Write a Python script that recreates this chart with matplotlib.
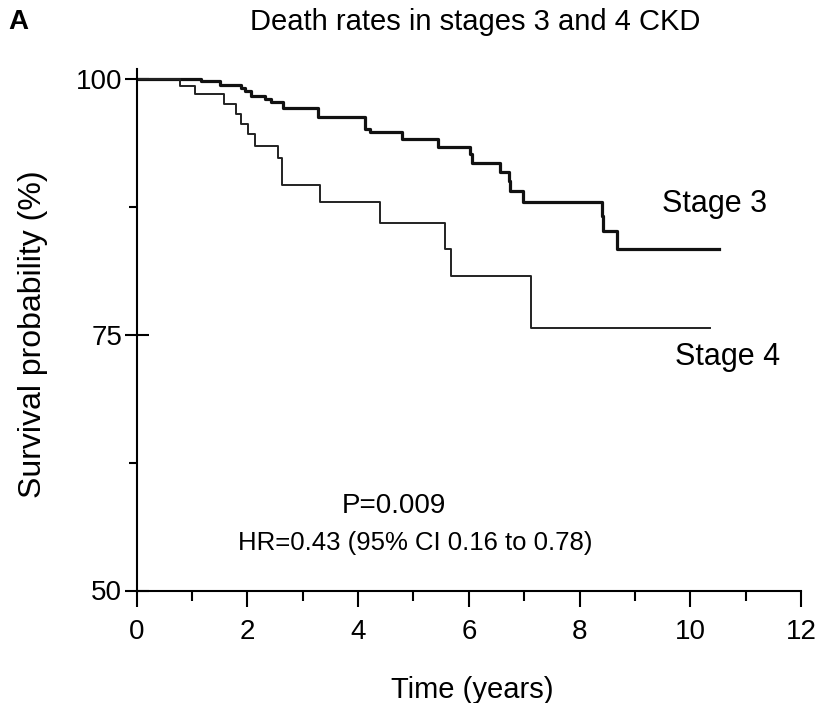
import matplotlib
matplotlib.use("Agg")
import matplotlib.pyplot as plt
from matplotlib.ticker import MultipleLocator, FixedLocator

plt.rcParams.update({
    "font.family": ["Liberation Sans", "DejaVu Sans"],
    "font.size": 20,
    "axes.linewidth": 1.5,
})

# Kaplan-Meier steps (time in years, survival in %)
stage3_t = [0, 1.17, 1.50, 1.89, 1.95, 2.07, 2.31, 2.43, 2.65, 3.27, 4.12, 4.21,
            4.79, 5.44, 6.02, 6.05, 6.56, 6.73, 6.75, 6.97, 8.40, 8.42, 8.67, 10.51]
stage3_s = [100, 99.77, 99.44, 99.1, 98.86, 98.37, 98.04, 97.71, 97.13, 96.25, 95.14, 94.78,
            94.13, 93.38, 92.67, 91.79, 90.94, 90.06, 89.08, 88.01, 86.6, 85.14, 83.38, 83.38]

stage4_t = [0, 0.78, 1.05, 1.58, 1.80, 1.89, 2.01, 2.13, 2.56, 2.62, 3.31, 4.39,
            5.57, 5.67, 7.12, 10.36]
stage4_s = [100, 99.35, 98.5, 97.6, 96.6, 95.6, 94.6, 93.5, 92.3, 89.6, 88.0, 85.9,
            83.4, 80.7, 75.7, 75.7]

x_ticks = [0, 2, 4, 6, 8, 10, 12]
y_ticks = [50, 75, 100]

W, H = 815, 703
fig = plt.figure(figsize=(W / 100, H / 100), dpi=100)
x0, x1 = 136.7, 801.0
y50, ytop = 590.5, 68.8
ax = fig.add_axes([x0 / W, 1 - y50 / H, (x1 - x0) / W, (y50 - ytop) / H])

ax.step(stage3_t, stage3_s, where="post", color="#111111", lw=2.3)
ax.step(stage4_t, stage4_s, where="post", color="#222222", lw=1.4)

ax.set_xlim(0, 12)
ax.set_ylim(50, 101)
ax.spines["top"].set_visible(False)
ax.spines["right"].set_visible(False)

ax.xaxis.set_major_locator(FixedLocator(x_ticks))
ax.xaxis.set_minor_locator(MultipleLocator(1))
ax.yaxis.set_major_locator(FixedLocator(y_ticks))
ax.yaxis.set_minor_locator(FixedLocator([62.5, 87.5]))
ax.tick_params(axis="x", which="major", direction="out", length=11.5, width=1.5, pad=9, labelsize=20)
ax.tick_params(axis="x", which="minor", direction="out", length=7, width=1.5)
ax.tick_params(axis="y", which="major", direction="inout", length=17, width=1.5, pad=2, labelsize=20)
ax.tick_params(axis="y", which="minor", direction="out", length=5.5, width=1.5)

ax.text(10.43, 87.8, "Stage 3", ha="center", va="center", fontsize=22)
ax.text(10.68, 72.8, "Stage 4", ha="center", va="center", fontsize=22)
ax.text(4.65, 58.3, "P=0.009", ha="center", va="center", fontsize=20)
ax.text(5.03, 54.6, "HR=0.43 (95% CI 0.16 to 0.78)", ha="center", va="center", fontsize=18.5)

fig.text(475 / W, 1 - 22 / H, "Death rates in stages 3 and 4 CKD", ha="center", va="center", fontsize=21)
fig.text(8 / W, 1 - 22 / H, "A", ha="left", va="center", fontsize=20, fontweight="bold")
fig.text(33 / W, 1 - 334 / H, "Survival probability (%)", ha="center", va="center",
         rotation=90, fontsize=23)
fig.text(472 / W, 1 - 690 / H, "Time (years)", ha="center", va="center", fontsize=21)

fig.savefig("out.png", dpi=100)
